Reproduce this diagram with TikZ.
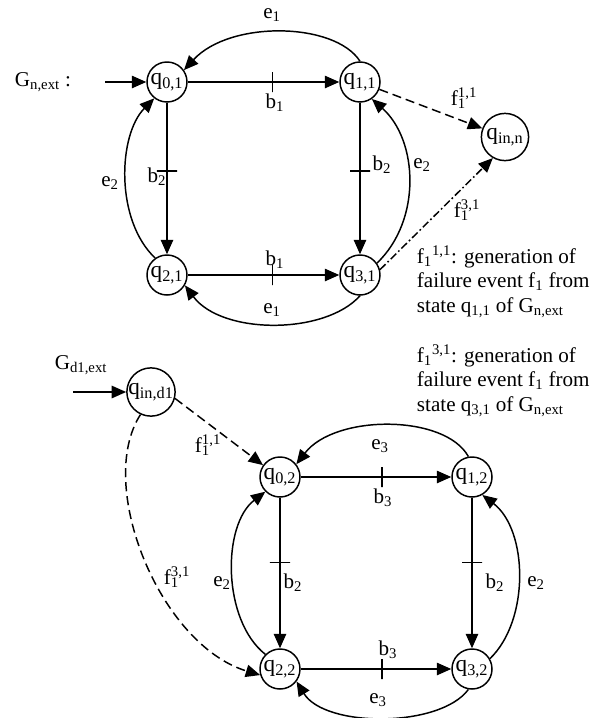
\documentclass[tikz,border=0pt]{standalone}
\usepackage{fontspec}
\setmainfont{Liberation Serif}
\usetikzlibrary{arrows.meta}
\newcommand{\fev}[1]{f\rlap{\textsubscript{1}}\textsuperscript{#1}}
\begin{document}
\begin{tikzpicture}[x=0.025cm, y=-0.025cm,
  font=\fontsize{15}{17.6}\selectfont,
  state/.style={draw, circle, inner sep=0pt, minimum size=1cm, line width=1.05pt,
    font=\fontsize{16.5}{18}\selectfont},
  bigstate/.style={state, minimum size=1.18cm},
  trans/.style={line width=1.05pt, -{Triangle[length=3.6mm,width=3.1mm]}},
  fail/.style={trans, dash pattern=on 6.5pt off 3.5pt},
  faildot/.style={trans, dash pattern=on 5.5pt off 2pt on 1.2pt off 2pt},
  vbar/.style={draw, line width=1.05pt, inner sep=0pt, minimum width=0pt, minimum height=0.5cm},
  hbar/.style={draw, line width=1.05pt, inner sep=0pt, minimum height=0pt, minimum width=0.5cm}]
\useasboundingbox (0,0) rectangle (609,718);

\node (Gn) at (43,82) {G\textsubscript{n,ext} :};
\coordinate (gn) at (105,82);
\node[state] (q01) at (167,82) {q\textsubscript{0,1}};
\node[state] (q11) at (360,82) {q\textsubscript{1,1}};
\node[state] (q21) at (167,275) {q\textsubscript{2,1}};
\node[state] (q31) at (360,275) {q\textsubscript{3,1}};
\node[bigstate] (qinn) at (505,137) {q\textsubscript{in,n}};
\draw[trans] (gn) -- (q01);
\draw[trans] (q01) -- node[pos=0.56, vbar] (t1) {} (q11);
\draw[trans] (q21) -- node[pos=0.56, vbar] (t2) {} (q31);
\draw[trans] (q01) -- node[pos=0.45, hbar] (t3) {} (q21);
\draw[trans] (q11) -- node[pos=0.45, hbar] (t4) {} (q31);
\draw[trans] (q11.north) .. controls (335,22) and (230,20) .. (q01.35);
\draw[trans] (q31.south) .. controls (325,335) and (222,335) .. (q21.-30);
\draw[trans] (q21.125) .. controls (115,220) and (118,135) .. (q01.-128);
\draw[trans] (q31.35) .. controls (422,220) and (418,140) .. (q11.-55);
\draw[fail] (q11) -- (qinn);
\draw[faildot] (q31.15) -- (qinn.-120);
\node (le1a) at (272,15) {e\textsubscript{1}};
\node (le1b) at (272,310) {e\textsubscript{1}};
\node (lb1a) at (275,103) {b\textsubscript{1}};
\node (lb1b) at (275,260) {b\textsubscript{1}};
\node (lb2a) at (157,177) {b\textsubscript{2}};
\node (lb2b) at (382,165) {b\textsubscript{2}};
\node (le2a) at (110,183) {e\textsubscript{2}};
\node (le2b) at (422,165) {e\textsubscript{2}};
\node (lf11) at (464,98) {\fev{1,1}};
\node (lf31) at (467,210) {\fev{3,1}};

\node[anchor=north west, align=left] (note1) at (412,241)
  {f\textsubscript{1}\textsuperscript{1,1}: generation of\\
   failure event f\textsubscript{1} from\\
   state q\textsubscript{1,1} of G\textsubscript{n,ext}};
\node[anchor=north west, align=left] (note2) at (412,340)
  {f\textsubscript{1}\textsuperscript{3,1}: generation of\\
   failure event f\textsubscript{1} from\\
   state q\textsubscript{3,1} of G\textsubscript{n,ext}};

\node (Gd) at (81,365) {G\textsubscript{d1,ext}};
\coordinate (gd) at (73,392);
\node[bigstate] (qind) at (151,392) {q\textsubscript{in,d1}};
\node[state] (q02) at (280,477) {q\textsubscript{0,2}};
\node[state] (q12) at (472,477) {q\textsubscript{1,2}};
\node[state] (q22) at (280,669) {q\textsubscript{2,2}};
\node[state] (q32) at (472,669) {q\textsubscript{3,2}};
\draw[trans] (gd) -- (qind);
\draw[fail] (qind.-15) -- (q02.145);
\draw[fail] (qind.-115) .. controls (95,485) and (160,645) .. (q22.-163);
\draw[trans] (q02) -- node[pos=0.54, vbar] (t5) {} (q12);
\draw[trans] (q22) -- node[pos=0.54, vbar] (t6) {} (q32);
\draw[trans] (q02) -- node[pos=0.43, hbar] (t7) {} (q22);
\draw[trans] (q12) -- node[pos=0.43, hbar] (t8) {} (q32);
\draw[trans] (q12.100) .. controls (445,414) and (335,414) .. (q02.38);
\draw[trans] (q32.-100) .. controls (440,728) and (325,728) .. (q22.-37);
\draw[trans] (q22.135) .. controls (222,620) and (222,525) .. (q02.-135);
\draw[trans] (q32.30) .. controls (530,620) and (528,530) .. (q12.-60);
\node (le3a) at (380,446) {e\textsubscript{3}};
\node (le3b) at (378,700) {e\textsubscript{3}};
\node (lb3a) at (383,498) {b\textsubscript{3}};
\node (lb3b) at (388,650) {b\textsubscript{3}};
\node (lb2c) at (293,583) {b\textsubscript{2}};
\node (lb2d) at (495,583) {b\textsubscript{2}};
\node (le2c) at (222,583) {e\textsubscript{2}};
\node (le2d) at (536,583) {e\textsubscript{2}};
\node (lf11d) at (208,445) {\fev{1,1}};
\node (lf31d) at (177,577) {\fev{3,1}};
\end{tikzpicture}
\end{document}
